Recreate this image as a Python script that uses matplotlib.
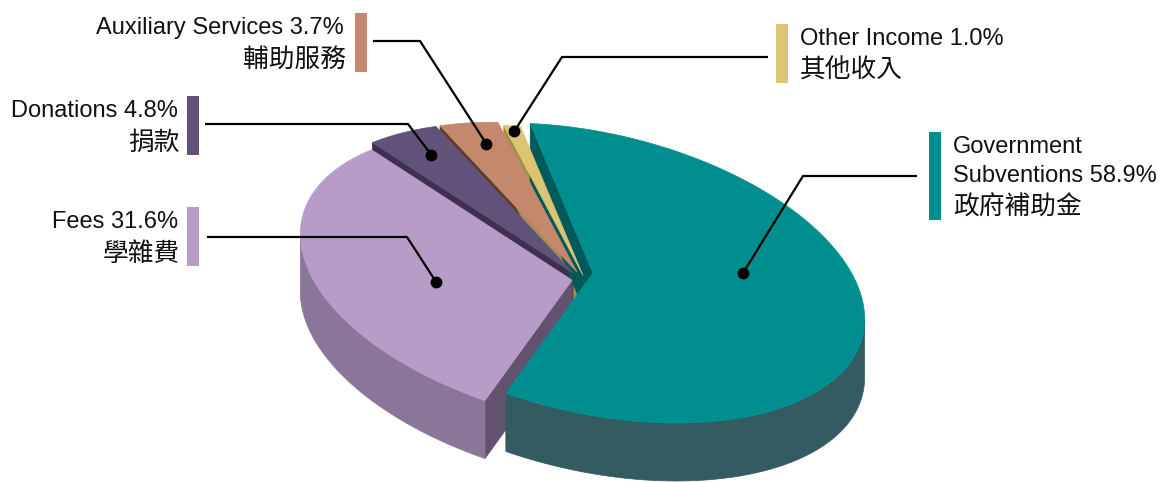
import numpy as np
import matplotlib.pyplot as plt
from matplotlib.patches import Polygon, Rectangle

plt.rcParams['font.family'] = ['Liberation Sans', 'DejaVu Sans']
CJK = ['Noto Sans CJK TC', 'DejaVu Sans']

# ---- data ---------------------------------------------------------------
names_en = ["Government\nSubventions", "Fees", "Donations",
            "Auxiliary Services", "Other Income"]
names_zh = ["政府補助金", "學雜費", "捐款", "輔助服務", "其他收入"]
shares = [58.9, 31.6, 4.8, 3.7, 1.0]

top_colors = ["#008e8e", "#b89cc8", "#62527a", "#c4886c", "#dcc474"]
wall_colors = ["#005a5a", "#63526f", "#3f3052", "#5c3e2e", "#a09050"]
side_colors = ["#335b61", "#8a7698", "#4a3c5c", "#8a5c48", "#a09050"]

# ---- pie geometry (pixels) ----------------------------------------------
W, H = 1162, 482
CX, CY = 583, 275.5
RX, RY = 277, 140
TILT = np.radians(13)          # tilt of the rim ellipse
EXPLODE_TILT = np.radians(-12)  # direction in which slices are pulled out
DEPTH = 58
explode = [0.037, 0.045, 0.047, 0.037, 0.0]
START = 110          # degrees, slices run clockwise from here

# label layout: side, bar x, first baseline, text x, leader start x, elbow x, leader y,
# anchor angle on slice, anchor radius fraction
layout = [
    dict(side="R", bar=929, base=153, tx=953, lx=917, ex=803, ly=176, ang=24.5, rr=0.58),
    dict(side="L", bar=187, base=228, tx=178, lx=207, ex=407, ly=237, ang=206, rr=0.53),
    dict(side="L", bar=187, base=117, tx=178, lx=205, ex=408, ly=124, ang=135, rr=0.84),
    dict(side="L", bar=355, base=34, tx=344, lx=373, ex=420, ly=41, ang=119.5, rr=0.86),
    dict(side="R", bar=776, base=45, tx=800, lx=768, ex=562, ly=57, ang=111.8, rr=0.965),
]


def ellipse_xy(t, tilt):
    t = np.radians(np.atleast_1d(t))
    x = RX * np.cos(t) * np.cos(tilt) + RY * np.sin(t) * np.sin(tilt)
    y = RX * np.cos(t) * np.sin(tilt) - RY * np.sin(t) * np.cos(tilt)
    return np.column_stack([x, y])


def rim(t, cx, cy, r=1.0):
    return np.array([cx, cy]) + r * ellipse_xy(t, TILT)


fig = plt.figure(figsize=(W / 100, H / 100), dpi=100)
ax = fig.add_axes([0, 0, 1, 1])
ax.set_xlim(0, W)
ax.set_ylim(H, 0)
ax.axis("off")

spans = np.array(shares) / sum(shares) * 360
t2s = START - np.concatenate([[0], np.cumsum(spans)[:-1]])
t1s = t2s - spans
mids = (t1s + t2s) / 2

s_right = np.degrees(np.arctan2(RY * np.sin(TILT), RX * np.cos(TILT)))
front = (s_right - 180, s_right)

centers = []
for m, e in zip(mids, explode):
    off = e * ellipse_xy(m, EXPLODE_TILT)[0]
    centers.append((CX + off[0], CY + off[1]))

order = sorted(range(len(shares)), key=lambda i: rim(mids[i], *centers[i])[0, 1])
down = np.array([0, DEPTH])

walls, tops = [], []
for i in order:
    cx, cy = centers[i]
    P = np.array([cx, cy])
    t1, t2 = t1s[i], t2s[i]
    inner = rim(mids[i], cx, cy, 0.5)[0]
    for t in (t1, t2):
        Q = rim(t, cx, cy)[0]
        d = Q - P
        n = np.array([d[1], -d[0]])
        if np.dot(n, inner - P) > 0:
            n = -n
        if n[1] > 0:
            walls.append((np.array([P, Q, Q + down, P + down]), wall_colors[i]))
    for k in (-1, 0, 1):
        lo = max(t1, front[0] + 360 * k)
        hi = min(t2, front[1] + 360 * k)
        if hi > lo:
            pts = rim(np.linspace(lo, hi, 120), cx, cy)
            walls.append((np.vstack([pts, (pts + down)[::-1]]), side_colors[i]))
    arc = rim(np.linspace(t1, t2, max(4, int(spans[i] * 2))), cx, cy)
    tops.append((np.vstack([P, arc]), top_colors[i]))

for pts, c in walls + tops:
    ax.add_patch(Polygon(pts, closed=True, facecolor=c, edgecolor=c, lw=0.5))

# ---- labels ---------------------------------------------------------------
for i, lay in enumerate(layout):
    en_lines = f"{names_en[i]} {shares[i]:.1f}%".split("\n")
    base = lay["base"]
    zh_y = base + 29 * (len(en_lines) - 1) + 26
    ax.add_patch(Rectangle((lay["bar"], base - 21), 12, zh_y + 12 - (base - 21),
                           facecolor=top_colors[i], edgecolor="none"))
    ha = "right" if lay["side"] == "L" else "left"
    for j, line in enumerate(en_lines):
        ax.text(lay["tx"], base + 29 * j, line, ha=ha, va="baseline",
                fontsize=17, color="#111111")
    zx = lay["tx"] + (2 if ha == "right" else 0)
    ax.text(zx, zh_y, names_zh[i], ha=ha, va="center", fontsize=18.5,
            family=CJK, color="#111111")

    dot = rim(lay["ang"], *centers[i], lay["rr"])[0]
    ax.plot([lay["lx"], lay["ex"], dot[0]], [lay["ly"], lay["ly"], dot[1]],
            color="black", lw=1.6, solid_capstyle="butt")
    ax.plot(dot[0], dot[1], "o", color="black", ms=7.5)

fig.savefig("out.png", dpi=100)
